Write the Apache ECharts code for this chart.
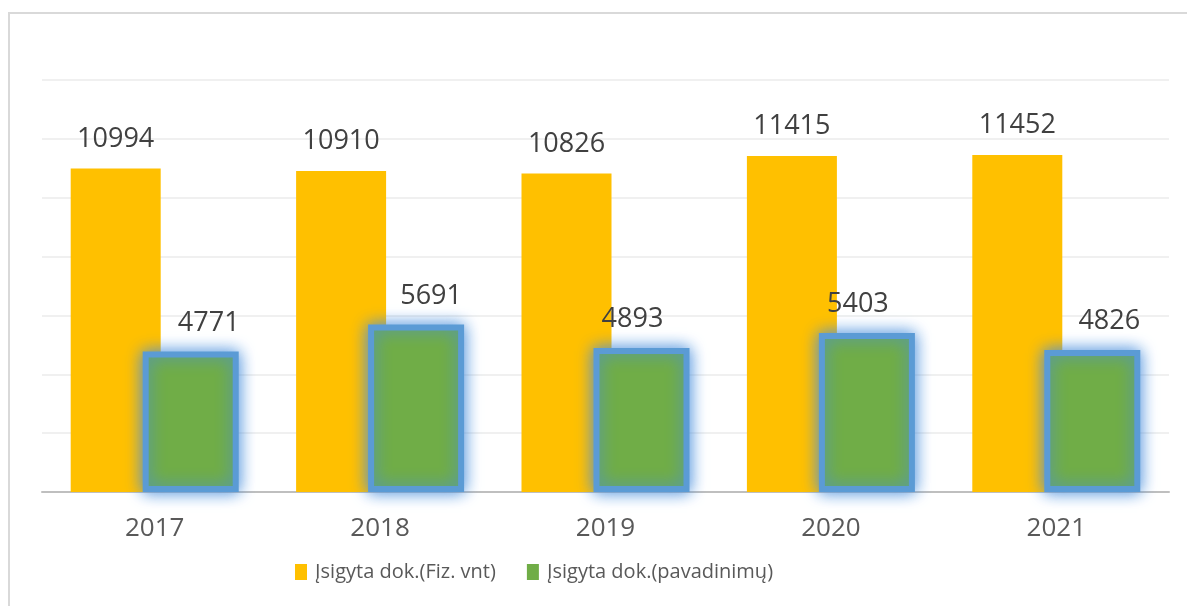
<!DOCTYPE html>
<html>
<head>
<meta charset="utf-8">
<script src="https://cdn.jsdelivr.net/npm/echarts@6/dist/echarts.min.js"></script>
<style>
  html, body { margin: 0; padding: 0; background: #fff; }
  #chart { width: 1187px; height: 606px; }
</style>
</head>
<body>
<div id="chart"></div>
<script>
// data
let years = ['2017', '2018', '2019', '2020', '2021'];
let seriesNames = ['Įsigyta dok.(Fiz. vnt)', 'Įsigyta dok.(pavadinimų)'];
let fizVnt = [10994, 10910, 10826, 11415, 11452];
let pavadinimu = [4771, 5691, 4893, 5403, 4826];
// label nudges for the green bars (as placed in the original)
let greenLabelShift = [18, 15, -9, -9, 17];

let font = 'Open Sans';
let myChart = echarts.init(document.getElementById('chart'));

myChart.setOption({
    animation: false,
    textStyle: { fontFamily: font },
    graphic: [{
        type: 'rect',
        shape: { x: 9, y: 13, width: 1300, height: 800 },
        style: { fill: 'none', stroke: '#d9d9d9', lineWidth: 2 },
        silent: true
    }],
    grid: { left: 42, right: 18, top: 80, bottom: 114 },
    legend: {
        data: seriesNames.map(n => ({
            name: n,
            itemStyle: { borderWidth: 0, shadowBlur: 0 }
        })),
        left: 290,
        top: 557,
        itemWidth: 12,
        itemHeight: 16,
        itemGap: 31,
        icon: 'rect',
        textStyle: { fontSize: 20, color: '#595959', fontFamily: font, padding: [0, 0, 0, 3] }
    },
    xAxis: {
        type: 'category',
        data: years,
        axisLine: { lineStyle: { color: '#bfbfbf', width: 2 } },
        axisTick: { show: false },
        axisLabel: { fontSize: 26, color: '#595959', margin: 24, fontFamily: font }
    },
    yAxis: {
        type: 'value',
        min: 0,
        max: 14000,
        interval: 2000,
        axisLabel: { show: false },
        axisLine: { show: false },
        axisTick: { show: false },
        splitLine: { lineStyle: { color: '#f0f0f0', width: 2 } }
    },
    series: [
        {
            name: seriesNames[0],
            type: 'bar',
            data: fizVnt,
            barWidth: 90,
            barGap: '-20%',
            itemStyle: { color: '#ffc000' },
            label: {
                show: true,
                position: 'top',
                distance: 16,
                fontSize: 27,
                color: '#404040',
                fontFamily: font
            }
        },
        {
            name: seriesNames[1],
            type: 'bar',
            z: 3,
            barWidth: 96,
            data: pavadinimu.map((v, i) => ({
                value: v,
                label: { offset: [greenLabelShift[i], 0] }
            })),
            itemStyle: {
                color: '#70ad47',
                borderColor: '#5b9bd5',
                borderWidth: 6,
                shadowBlur: 16,
                shadowColor: '#4a8fdc'
            },
            label: {
                show: true,
                position: 'top',
                distance: 15,
                fontSize: 27,
                color: '#404040',
                fontFamily: font
            }
        }
    ]
});
</script>
</body>
</html>
